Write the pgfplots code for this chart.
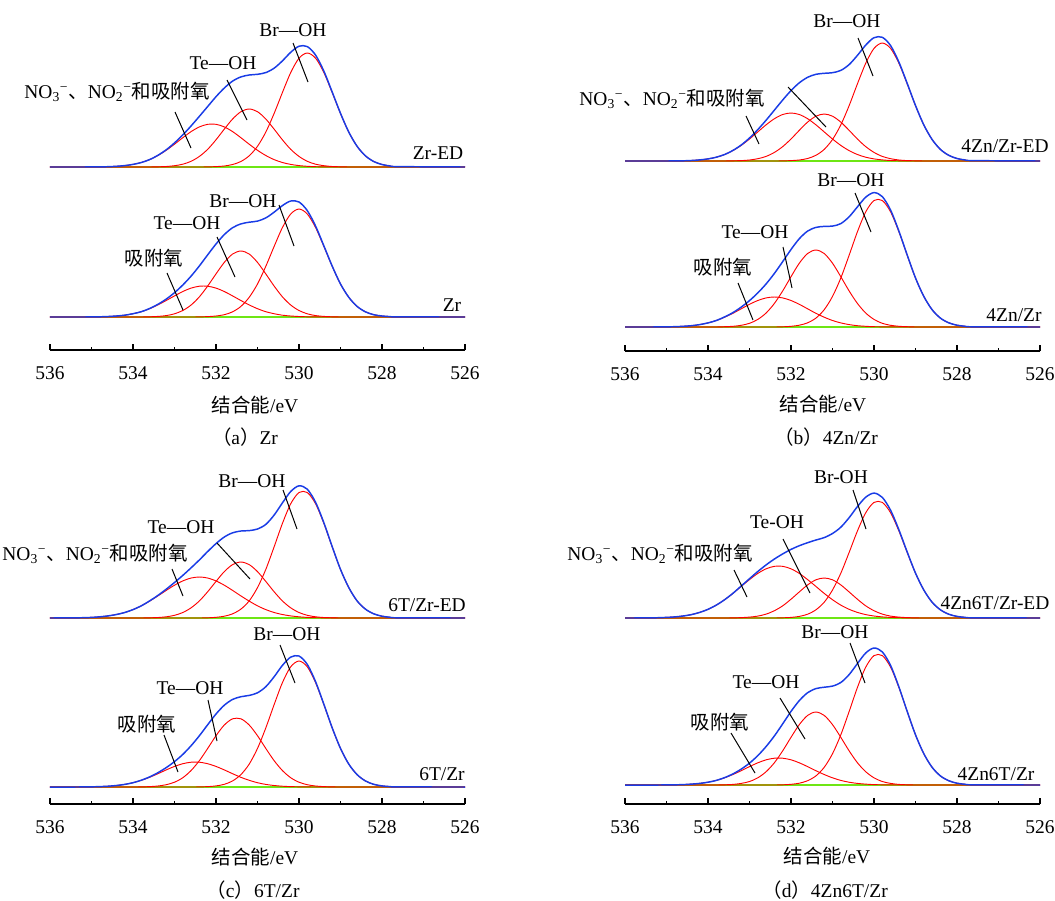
\documentclass[border=0pt]{standalone}
\usepackage{pgfplots}
\usepackage{pgfplotstable}
\pgfplotsset{compat=1.18}
\usepackage{fontspec}
\setmainfont{Liberation Serif}
\newfontfamily\cjk{Noto Sans CJK SC}
\definecolor{envblue}{RGB}{25,60,230}
\definecolor{basegreen}{RGB}{110,230,20}
\definecolor{peakred}{RGB}{255,0,0}

\pgfplotstableread{
x br te n e
536 0 0 0 0
535.4 0 0 0 0
535.2 0 0 0 0
535.0 0 0 0.1 0.1
534.8 0 0 0.1 0.1
534.6 0 0 0.3 0.3
534.4 0 0 0.7 0.7
534.2 0 0 1.4 1.4
534.0 0 0 2.6 2.6
533.8 0 0 4.5 4.5
533.6 0 0 7.4 7.4
533.4 0 0.2 11.5 11.7
533.2 0 0.5 16.7 17.2
533.0 0 1.3 22.8 24.1
532.8 0 2.8 29.3 32.1
532.6 0 5.7 35.4 41.1
532.4 0 10.6 40.1 50.7
532.2 0.1 17.7 42.7 60.5
532.0 0.4 27.2 42.7 70.3
531.8 1.0 37.9 40.1 79.0
531.6 2.5 48.0 35.4 85.9
531.4 5.5 55.3 29.3 90.1
531.2 11.2 58.0 22.8 92.0
531.0 20.7 55.3 16.7 92.7
530.8 34.9 48.0 11.5 94.4
530.6 53.5 37.9 7.4 98.8
530.4 74.4 27.2 4.5 106.1
530.2 94.4 17.7 2.6 114.7
530.0 108.8 10.6 1.4 120.8
529.8 114.0 5.7 0.7 120.4
529.6 108.8 2.8 0.3 111.9
529.4 94.4 1.3 0.1 95.8
529.2 74.4 0.5 0.1 75.0
529.0 53.5 0.2 0 53.7
528.8 34.9 0 0 34.9
528.6 20.7 0 0 20.7
528.4 11.2 0 0 11.2
528.2 5.5 0 0 5.5
528.0 2.5 0 0 2.5
527.8 1.0 0 0 1.0
527.6 0.4 0 0 0.4
526 0 0 0 0
}\aT

\pgfplotstableread{
x br te n e
536 0 0 0 0
535.4 0 0 0 0
535.2 0 0 0 0
535.0 0 0 0.1 0.1
534.8 0 0 0.2 0.2
534.6 0 0 0.5 0.5
534.4 0 0 1.0 1.0
534.2 0 0 1.8 1.8
534.0 0 0 3.3 3.3
533.8 0 0 5.3 5.3
533.6 0 0.2 8.3 8.5
533.4 0 0.6 12.1 12.7
533.2 0 1.4 16.5 17.9
533.0 0 3.2 21.1 24.3
532.8 0 6.5 25.5 32.0
532.6 0 12.0 28.9 40.9
532.4 0.1 20.2 30.8 51.1
532.2 0.4 31.0 30.8 62.2
532.0 1.0 43.1 28.9 73.0
531.8 2.3 54.6 25.5 82.4
531.6 5.2 63.0 21.1 89.3
531.4 10.6 66.0 16.5 93.1
531.2 19.7 63.0 12.1 94.8
531.0 33.0 54.6 8.3 95.9
530.8 50.7 43.1 5.3 99.1
530.6 70.5 31.0 3.3 104.8
530.4 89.4 20.2 1.8 111.4
530.2 103.0 12.0 1.0 116.0
530.0 108.0 6.5 0.5 115.0
529.8 103.0 3.2 0.2 106.4
529.6 89.4 1.4 0.1 90.9
529.4 70.5 0.6 0 71.1
529.2 50.7 0.2 0 50.9
529.0 33.0 0 0 33.0
528.8 19.7 0 0 19.7
528.6 10.6 0 0 10.6
528.4 5.2 0 0 5.2
528.2 2.3 0 0 2.3
528.0 1.0 0 0 1.0
527.8 0.4 0 0 0.4
527.6 0.1 0 0 0.1
526 0 0 0 0
}\aB

\pgfplotstableread{
x br te n e
536 0 0 0 0
535.4 0 0 0 0
535.2 0 0 0 0
535.0 0 0 0 0
534.8 0 0 0.1 0.1
534.6 0 0 0.2 0.2
534.4 0 0 0.5 0.5
534.2 0 0 1.1 1.1
534.0 0 0 2.1 2.1
533.8 0 0 3.8 3.8
533.6 0 0 6.5 6.5
533.4 0 0.2 10.4 10.6
533.2 0 0.4 15.6 16.0
533.0 0 1.0 22.0 23.0
532.8 0 2.3 29.1 31.4
532.6 0 4.6 36.2 40.8
532.4 0 8.6 42.3 50.9
532.2 0.1 14.4 46.5 61.0
532.0 0.4 22.0 48.0 70.4
531.8 1.0 30.7 46.5 78.2
531.6 2.5 38.9 42.3 83.7
531.4 5.7 44.8 36.2 86.7
531.2 11.6 47.0 29.1 87.7
531.0 21.5 44.8 22.0 88.3
530.8 36.1 38.9 15.6 90.6
530.6 55.3 30.7 10.4 96.4
530.4 77.1 22.0 6.5 105.6
530.2 97.7 14.4 3.8 115.9
530.0 112.6 8.6 2.1 123.3
529.8 118.0 4.6 1.1 123.7
529.6 112.6 2.3 0.5 115.4
529.4 97.7 1.0 0.2 98.9
529.2 77.1 0.4 0.1 77.6
529.0 55.3 0.2 0 55.5
528.8 36.1 0 0 36.1
528.6 21.5 0 0 21.5
528.4 11.6 0 0 11.6
528.2 5.7 0 0 5.7
528.0 2.5 0 0 2.5
527.8 1.0 0 0 1.0
527.6 0.4 0 0 0.4
526 0 0 0 0
}\bT

\pgfplotstableread{
x br te n e
536 0 0 0 0
535.4 0 0 0 0
535.2 0 0 0.1 0.1
535.0 0 0 0.2 0.2
534.8 0 0 0.3 0.3
534.6 0 0 0.7 0.7
534.4 0 0 1.3 1.3
534.2 0 0 2.4 2.4
534.0 0 0 4.1 4.1
533.8 0 0 6.5 6.5
533.6 0 0.3 9.8 10.1
533.4 0 0.7 13.7 14.4
533.2 0 1.7 18.2 19.9
533.0 0 3.7 22.7 26.4
532.8 0 7.6 26.5 34.1
532.6 0 14.0 29.1 43.1
532.4 0 23.6 30.0 53.6
532.2 0.2 36.1 29.1 65.4
532.0 0.7 50.3 26.5 77.5
531.8 1.8 63.8 22.7 88.3
531.6 4.2 73.5 18.2 95.9
531.4 8.9 77.0 13.7 99.6
531.2 17.3 73.5 9.8 100.6
531.0 30.6 63.8 6.5 100.9
530.8 49.0 50.3 4.1 103.4
530.6 71.7 36.1 2.4 110.2
530.4 95.2 23.6 1.3 120.1
530.2 115.1 14.0 0.7 129.8
530.0 126.5 7.6 0.3 134.4
529.8 126.5 3.7 0.2 130.4
529.6 115.1 1.7 0.1 116.9
529.4 95.2 0.7 0 95.9
529.2 71.7 0.3 0 72.0
529.0 49.0 0 0 49.0
528.8 30.6 0 0 30.6
528.6 17.3 0 0 17.3
528.4 8.9 0 0 8.9
528.2 4.2 0 0 4.2
528.0 1.8 0 0 1.8
527.8 0.7 0 0 0.7
527.6 0.2 0 0 0.2
526 0 0 0 0
}\bB

\pgfplotstableread{
x br te n e
536 0 0 0 0
535.4 0 0 0.2 0.2
535.2 0 0 0.3 0.3
535.0 0 0 0.6 0.6
534.8 0 0 1.2 1.2
534.6 0 0 2.1 2.1
534.4 0 0 3.5 3.5
534.2 0 0 5.5 5.5
534.0 0 0 8.4 8.4
533.8 0 0 12.2 12.2
533.6 0 0.2 16.9 17.1
533.4 0 0.5 22.1 22.6
533.2 0 1.2 27.6 28.8
533.0 0 2.7 32.8 35.5
532.8 0 5.5 37.1 42.6
532.6 0 10.2 40.0 50.2
532.4 0 17.1 41.0 58.1
532.2 0.2 26.3 40.0 66.5
532.0 0.7 36.6 37.1 74.4
531.8 1.8 46.4 32.8 81.0
531.6 4.2 53.4 27.6 85.2
531.4 8.9 56.0 22.1 87.0
531.2 17.1 53.4 16.9 87.4
531.0 30.4 46.4 12.2 89.0
530.8 48.6 36.6 8.4 93.6
530.6 71.1 26.3 5.5 102.9
530.4 94.5 17.1 3.5 115.1
530.2 114.2 10.2 2.1 126.5
530.0 125.5 5.5 1.2 132.2
529.8 125.5 2.7 0.6 128.8
529.6 114.2 1.2 0.3 115.7
529.4 94.5 0.5 0.2 95.2
529.2 71.1 0.2 0.1 71.4
529.0 48.6 0 0 48.6
528.8 30.4 0 0 30.4
528.6 17.1 0 0 17.1
528.4 8.9 0 0 8.9
528.2 4.2 0 0 4.2
528.0 1.8 0 0 1.8
527.8 0.7 0 0 0.7
527.6 0.2 0 0 0.2
526 0 0 0 0
}\cT

\pgfplotstableread{
x br te n e
536 0 0 0 0
535.4 0 0 0 0
535.2 0 0 0.1 0.1
535.0 0 0 0.2 0.2
534.8 0 0 0.4 0.4
534.6 0 0 0.8 0.8
534.4 0 0 1.5 1.5
534.2 0 0 2.6 2.6
534.0 0 0 4.3 4.3
533.8 0 0.1 6.7 6.8
533.6 0 0.4 9.7 10.1
533.4 0 1.0 13.3 14.3
533.2 0 2.3 17.1 19.4
533.0 0 4.8 20.6 25.4
532.8 0 9.3 23.3 32.6
532.6 0 16.5 24.8 41.3
532.4 0.1 26.4 24.8 51.3
532.2 0.4 38.6 23.3 62.3
532.0 1.1 51.3 20.6 73.0
531.8 2.7 62.0 17.1 81.8
531.6 6.1 68.2 13.3 87.6
531.4 12.4 68.2 9.7 90.3
531.2 22.9 62.0 6.7 91.6
531.0 38.6 51.3 4.3 94.2
530.8 59.1 38.6 2.6 100.3
530.6 82.3 26.4 1.5 110.2
530.4 104.3 16.5 0.8 121.6
530.2 120.2 9.3 0.4 129.9
530.0 126.0 4.8 0.2 131.0
529.8 120.2 2.3 0.1 122.6
529.6 104.3 1.0 0 105.3
529.4 82.3 0.4 0 82.7
529.2 59.1 0.1 0 59.2
529.0 38.6 0 0 38.6
528.8 22.9 0 0 22.9
528.6 12.4 0 0 12.4
528.4 6.1 0 0 6.1
528.2 2.7 0 0 2.7
528.0 1.1 0 0 1.1
527.8 0.4 0 0 0.4
527.6 0.1 0 0 0.1
526 0 0 0 0
}\cB

\pgfplotstableread{
x br te n e
536 0 0 0 0
535.4 0 0 0.1 0.1
535.2 0 0 0.3 0.3
535.0 0 0 0.6 0.6
534.8 0 0 1.1 1.1
534.6 0 0 2.0 2.0
534.4 0 0 3.4 3.4
534.2 0 0 5.6 5.6
534.0 0 0 8.7 8.7
533.8 0 0 12.9 12.9
533.6 0 0 18.3 18.3
533.4 0 0.1 24.6 24.7
533.2 0 0.4 31.6 32.0
533.0 0 0.9 38.4 39.3
532.8 0 1.9 44.6 46.5
532.6 0 3.9 49.2 53.1
532.4 0 7.3 51.7 59.0
532.2 0.2 12.2 51.7 64.1
532.0 0.6 18.8 49.2 68.6
531.8 1.6 26.1 44.6 72.3
531.6 3.8 33.1 38.4 75.3
531.4 8.2 38.2 31.6 78.0
531.2 15.8 40.0 24.6 80.4
531.0 28.0 38.2 18.3 84.5
530.8 44.8 33.1 12.9 90.8
530.6 65.5 26.1 8.7 100.3
530.4 87.0 18.8 5.6 111.4
530.2 105.2 12.2 3.4 120.8
530.0 115.6 7.3 2.0 124.9
529.8 115.6 3.9 1.1 120.6
529.6 105.2 1.9 0.6 107.7
529.4 87.0 0.9 0.3 88.2
529.2 65.5 0.4 0.1 66.0
529.0 44.8 0.1 0 44.9
528.8 28.0 0 0 28.0
528.6 15.8 0 0 15.8
528.4 8.2 0 0 8.2
528.2 3.8 0 0 3.8
528.0 1.6 0 0 1.6
527.8 0.6 0 0 0.6
527.6 0.2 0 0 0.2
526 0 0 0 0
}\dT

\pgfplotstableread{
x br te n e
536 0 0 0 0
535.4 0 0 0 0
535.2 0 0 0 0
535.0 0 0 0.1 0.1
534.8 0 0 0.2 0.2
534.6 0 0 0.4 0.4
534.4 0 0 0.9 0.9
534.2 0 0 1.6 1.6
534.0 0 0 2.8 2.8
533.8 0 0 4.6 4.6
533.6 0 0.2 7.2 7.4
533.4 0 0.6 10.5 11.1
533.2 0 1.6 14.3 15.9
533.0 0 3.5 18.4 21.9
532.8 0 7.2 22.2 29.4
532.6 0 13.3 25.2 38.5
532.4 0 22.3 26.8 49.1
532.2 0.2 34.2 26.8 61.2
532.0 0.7 47.7 25.2 73.6
531.8 1.8 60.4 22.2 84.4
531.6 4.3 69.6 18.4 92.3
531.4 9.1 73.0 14.3 96.4
531.2 17.7 69.6 10.5 97.8
531.0 31.3 60.4 7.2 98.9
530.8 50.2 47.7 4.6 102.5
530.6 73.4 34.2 2.8 110.4
530.4 97.5 22.3 1.6 121.4
530.2 117.8 13.3 0.9 132.0
530.0 129.4 7.2 0.4 137.0
529.8 129.4 3.5 0.2 133.1
529.6 117.8 1.6 0.1 119.5
529.4 97.5 0.6 0 98.1
529.2 73.4 0.2 0 73.6
529.0 50.2 0 0 50.2
528.8 31.3 0 0 31.3
528.6 17.7 0 0 17.7
528.4 9.1 0 0 9.1
528.2 4.3 0 0 4.3
528.0 1.8 0 0 1.8
527.8 0.7 0 0 0.7
527.6 0.2 0 0 0.2
526 0 0 0 0
}\dB

\pgfplotsset{
  spec/.style={width=311.25pt,height=112.5pt,scale only axis,
    xmin=526,xmax=536,x dir=reverse,ymin=0,ymax=150,
    hide axis,clip=false,anchor=south west},
  tickax/.style={width=311.25pt,height=20pt,scale only axis,
    xmin=526,xmax=536,x dir=reverse,ymin=0,ymax=1,
    axis x line=bottom,axis y line=none,
    xtick={526,528,530,532,534,536},minor xtick={527,529,531,533,535},
    xtick align=inside,major tick length=4.5pt,minor tick length=2.25pt,
    tick style={black,line width=0.8pt},
    x axis line style={black,line width=0.9pt,-},
    xticklabel style={yshift=-9pt},
    tick label style={font=\fontsize{14.6}{17.5}\selectfont},
    /pgf/number format/assume math mode=true,
    /pgf/number format/1000 sep={},
    anchor=south west},
}

\newcommand\spec[1]{%
  \addplot[basegreen,line width=1.1pt] coordinates {(536,0) (526,0)};
  \addplot[peakred,line width=0.7pt,smooth] table[x=x,y=br]{#1};
  \addplot[peakred,line width=0.7pt,smooth] table[x=x,y=te]{#1};
  \addplot[peakred,line width=0.7pt,smooth] table[x=x,y=n]{#1};
  \addplot[envblue,line width=1.1pt,smooth] table[x=x,y=e]{#1};
}
\newcommand\NOlab{NO\textsubscript{3}\textsuperscript{−}{\cjk 、}NO\textsubscript{2}\textsuperscript{−}{\cjk 和吸附氧}}
\newcommand\ads{{\cjk 吸附氧}}
\newcommand\xlab{{\cjk 结合能}/eV}

\begin{document}
\begin{tikzpicture}[font=\fontsize{14.6}{17.5}\selectfont]
\path[use as bounding box] (0pt,0pt) rectangle (791.25pt,-675pt);

% (a)
\begin{axis}[spec,at={(37.5pt,-125.25pt)}] \spec{\aT} \end{axis}
\begin{axis}[spec,at={(37.5pt,-237.75pt)}] \spec{\aB} \end{axis}
\begin{axis}[tickax,at={(37.5pt,-262.5pt)}] \addplot[draw=none] coordinates {(530,0.5)}; \end{axis}
% (b)
\begin{axis}[spec,at={(468.75pt,-120.75pt)}] \spec{\bT} \end{axis}
\begin{axis}[spec,at={(468.75pt,-245.25pt)}] \spec{\bB} \end{axis}
\begin{axis}[tickax,at={(468.75pt,-263.25pt)}] \addplot[draw=none] coordinates {(530,0.5)}; \end{axis}
% (c)
\begin{axis}[spec,at={(37.5pt,-463.5pt)}] \spec{\cT} \end{axis}
\begin{axis}[spec,at={(37.5pt,-590.25pt)}] \spec{\cB} \end{axis}
\begin{axis}[tickax,at={(37.5pt,-603pt)}] \addplot[draw=none] coordinates {(530,0.5)}; \end{axis}
% (d)
\begin{axis}[spec,at={(468.75pt,-463.5pt)}] \spec{\dT} \end{axis}
\begin{axis}[spec,at={(468.75pt,-588.75pt)}] \spec{\dB} \end{axis}
\begin{axis}[tickax,at={(468.75pt,-603pt)}] \addplot[draw=none] coordinates {(530,0.5)}; \end{axis}

\begin{scope}[x=0.75pt,y=-0.75pt]
% (a) top
\node at (293,30) {Br—OH};
\node at (223,63) {Te—OH};
\node at (117,92) {\NOlab};
\node at (438,153) {Zr-ED};
\draw[line width=0.75pt] (293,43)--(308,82);
\draw[line width=0.75pt] (227,80)--(247,120);
\draw[line width=0.75pt] (175,112)--(191,148);
% (a) bottom
\node at (243,201) {Br—OH};
\node at (187,223) {Te—OH};
\node at (154,258) {\ads};
\node at (452,305) {Zr};
\draw[line width=0.75pt] (279,205)--(294,246);
\draw[line width=0.75pt] (217,237)--(235,277);
\draw[line width=0.75pt] (167,273)--(183,310);
\node at (255,405) {\xlab};
\node at (245,437) {{\cjk （}a{\cjk ）}Zr};
% (b) top
\node at (847,21) {Br—OH};
\node at (672,99) {\NOlab};
\node at (1005,146) {4Zn/Zr-ED};
\draw[line width=0.75pt] (858,38)--(873,76);
\draw[line width=0.75pt] (788,87)--(826,127);
\draw[line width=0.75pt] (746,116)--(759,144);
% (b) bottom
\node at (851,180) {Br—OH};
\node at (755,232) {Te—OH};
\node at (723,267) {\ads};
\node at (1014,315) {4Zn/Zr};
\draw[line width=0.75pt] (855,193)--(871,232);
\draw[line width=0.75pt] (783,247)--(792,288);
\draw[line width=0.75pt] (738,283)--(753,320);
\node at (823,404) {\xlab};
\node at (826,437) {{\cjk （}b{\cjk ）}4Zn/Zr};
% (c) top
\node at (252,481) {Br—OH};
\node at (181,527) {Te—OH};
\node at (95,554) {\NOlab};
\node at (427,605) {6T/Zr-ED};
\draw[line width=0.75pt] (283,490)--(297,529);
\draw[line width=0.75pt] (217,543)--(250,579);
\draw[line width=0.75pt] (172,569)--(183,596);
% (c) bottom
\node at (287,634) {Br—OH};
\node at (190,688) {Te—OH};
\node at (147,724) {\ads};
\node at (442,774) {6T/Zr};
\draw[line width=0.75pt] (280,645)--(295,683);
\draw[line width=0.75pt] (208,700)--(217,741);
\draw[line width=0.75pt] (164,735)--(178,772);
\node at (255,857) {\xlab};
\node at (253,890) {{\cjk （}c{\cjk ）}6T/Zr};
% (d) top
\node at (841,477) {Br-OH};
\node at (777,522) {Te-OH};
\node at (660,554) {\NOlab};
\node at (995,603) {4Zn6T/Zr-ED};
\draw[line width=0.75pt] (853,490)--(866,529);
\draw[line width=0.75pt] (783,539)--(810,593);
\draw[line width=0.75pt] (734,570)--(747,597);
% (d) bottom
\node at (835,632) {Br—OH};
\node at (766,682) {Te—OH};
\node at (720,722) {\ads};
\node at (996,774) {4Zn6T/Zr};
\draw[line width=0.75pt] (850,643)--(865,683);
\draw[line width=0.75pt] (780,698)--(805,739);
\draw[line width=0.75pt] (731,733)--(755,773);
\node at (827,856) {\xlab};
\node at (825,890) {{\cjk （}d{\cjk ）}4Zn6T/Zr};
\end{scope}
\end{tikzpicture}
\end{document}
